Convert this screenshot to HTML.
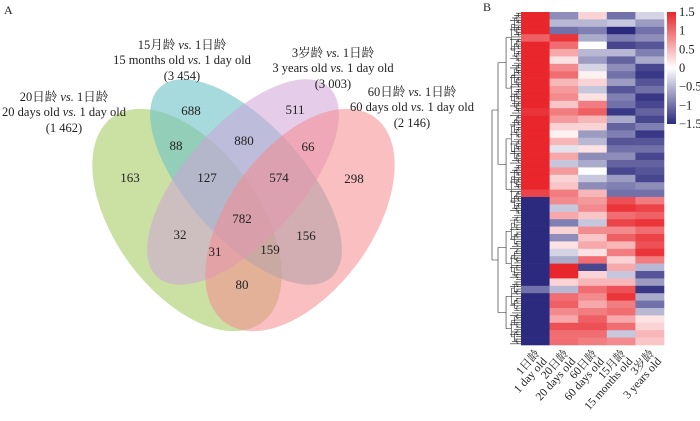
<!DOCTYPE html>
<html><head><meta charset="utf-8"><style>
body{margin:0;background:#fff;width:700px;height:416px;overflow:hidden;font-family:"Liberation Serif","Noto Serif CJK SC",serif;}
svg text{font-family:"Liberation Serif","Noto Serif CJK SC",serif;fill:#222;}
</style></head><body>
<svg id="root" width="700" height="416" viewBox="0 0 700 416">
<text x="4" y="14" font-size="12">A</text>
<text x="483" y="11" font-size="12">B</text>
<g>
<ellipse cx="187" cy="220" rx="72" ry="127" transform="rotate(-36 187 220)" fill="#a9cf6b" fill-opacity="0.62"/>
<ellipse cx="246" cy="182" rx="58" ry="128" transform="rotate(-42 246 182)" fill="#6cc1c6" fill-opacity="0.6"/>
<ellipse cx="243" cy="182" rx="58" ry="128" transform="rotate(42 243 182)" fill="#cfa4d9" fill-opacity="0.55"/>
<ellipse cx="300" cy="220" rx="72" ry="127" transform="rotate(36 300 220)" fill="#f58a8e" fill-opacity="0.55"/>
</g>
<g font-size="13" text-anchor="middle" id="counts"></g>
<g font-size="12.5" text-anchor="middle">
<text x="64" y="101">20日龄 <tspan font-style="italic">vs.</tspan> 1日龄</text>
<text x="64" y="116">20 days old <tspan font-style="italic">vs.</tspan> 1 day old</text>
<text x="64" y="132">(1 462)</text>
<text x="182" y="49">15月龄 <tspan font-style="italic">vs.</tspan> 1日龄</text>
<text x="182" y="64">15 months old <tspan font-style="italic">vs.</tspan> 1 day old</text>
<text x="182" y="80">(3 454)</text>
<text x="333" y="57">3岁龄 <tspan font-style="italic">vs.</tspan> 1日龄</text>
<text x="333" y="72">3 years old <tspan font-style="italic">vs.</tspan> 1 day old</text>
<text x="333" y="88">(3 003)</text>
<text x="412" y="96">60日龄 <tspan font-style="italic">vs.</tspan> 1日龄</text>
<text x="412" y="111">60 days old <tspan font-style="italic">vs.</tspan> 1 day old</text>
<text x="412" y="127">(2 146)</text>
</g>
<g id="dendro" stroke="#222" stroke-width="0.6" fill="none"></g>
<g id="heat"></g>
<defs><linearGradient id="cb" x1="0" y1="0" x2="0" y2="1">
<stop offset="0" stop-color="#e8262b"/><stop offset="0.5" stop-color="#ffffff"/><stop offset="1" stop-color="#2b2a7e"/></linearGradient></defs>
<rect x="667" y="12" width="9" height="112" fill="url(#cb)"/>
<g font-size="12.5" id="cbt"></g>
<g font-size="11.5" id="collab"></g>
</svg>
<script>
const ns="http://www.w3.org/2000/svg";
const vennCounts=[688,511,88,880,66,163,127,574,298,782,32,156,31,159,80];
const vennRegions=["T","P","GT","TP","PR","G","GTP","TPR","R","ALL","GP","TR","GPR","GTR","GR"];
const regionPos={T:[191,115],P:[295,114],GT:[176,150],TP:[244,145],PR:[308,151],G:[130,182],GTP:[207,182],TPR:[279,182],R:[354,183],ALL:[242,223],GP:[180,239],TR:[306,240],GPR:[215,256],GTR:[270,254],GR:[242,289]};
const cg=document.getElementById('counts');
vennCounts.forEach((v,i)=>{const t=document.createElementNS(ns,'text');const p=regionPos[vennRegions[i]];
t.setAttribute('x',p[0]);t.setAttribute('y',p[1]);t.textContent=v;

cg.appendChild(t);});

const columns=["1日龄|1 day old","20日龄|20 days old","60日龄|60 days old","15月龄|15 months old","3岁龄|3 years old"];
const col1=[1.5,1.5,1.5,1.1,1.5,1.5,1.5,1.5,1.5,1.5,1.5,1.5,1.5,1.4,1.5,1.5,1.5,1.5,1.5,1.5,1.5,1.5,1.5,1.5,1.3,-1.5,-1.5,-1.5,-1.5,-1.5,-1.5,-1.5,-1.5,-1.5,-1.5,-1.5,-1.5,-1.0,-1.5,-1.5,-1.5,-1.5,-1.5,-1.5,-1.5];
const col2=[-0.8,-0.5,-1.0,1.4,1.0,0.6,0.2,0.8,1.0,0.5,0.7,0.8,0.4,0.9,0.7,0.3,0.1,0.5,-0.2,0.6,-0.4,0.7,0.3,0.4,0.9,0.8,-0.4,0.6,-0.9,0.3,-0.8,0.2,-0.3,-0.6,1.5,1.5,0.3,-0.5,1.0,1.1,0.8,0.6,1.2,1.0,1.0];
const col3=[0.3,-0.5,-0.9,-0.6,0.0,-0.5,-0.7,-0.3,0.1,0.3,-0.4,0.2,0.9,1.1,0.5,0.3,-0.7,-0.5,0.2,-0.8,-0.6,0.0,-0.4,-0.8,0.5,0.7,0.8,0.4,-0.4,0.8,0.4,0.6,0.2,1.0,-1.3,0.3,0.5,1.0,0.8,0.6,0.9,1.1,1.2,1.0,0.9];
const col4=[-1.0,-0.4,-1.5,-0.9,-1.3,-0.5,-1.1,-0.8,-1.0,-0.7,-1.2,-0.9,-1.0,-1.4,-0.6,-1.1,-0.9,-1.2,-1.0,-0.8,-1.1,-1.3,-0.7,-0.9,-1.0,1.2,1.4,1.0,1.3,0.8,1.1,0.5,0.9,0.3,0.6,-0.4,0.5,1.2,1.4,0.9,1.0,0.6,1.0,-0.4,0.8];
const col5=[-0.3,-0.7,-1.0,-0.8,-1.2,-0.9,-0.6,-1.3,-1.4,-1.2,-1.0,-1.4,-1.3,-1.1,-1.3,-0.9,-1.4,-1.2,-1.0,-1.3,-1.1,-1.2,-1.3,-0.8,-1.0,0.9,1.3,1.1,1.4,1.0,1.3,1.2,1.4,0.9,-0.5,-1.2,-0.7,-1.4,-0.6,-1.0,-0.5,0.2,0.3,0.5,0.4];
const colData=[col1,col2,col3,col4,col5];
const cbTicks=[1.5,1,0.5,0,-0.5,-1,-1.5];
const hx0=521,hw=28.6,hy0=12,hy1=345;
const yOf=i=>hy0+(hy1-hy0)*i/col1.length;
const vY=v=>12+(1.5-v)/3*112;
function color(v){const t=Math.max(-1,Math.min(1,v/1.5));
 const a=[255,255,255],b=t>=0?[232,38,43]:[43,42,126],s=Math.abs(t);
 return `rgb(${a.map((c,k)=>Math.round(c+(b[k]-c)*s)).join(',')})`;}
const hg=document.getElementById('heat');
colData.forEach((arr,c)=>arr.forEach((v,i)=>{const r=document.createElementNS(ns,'rect');
r.setAttribute('x',hx0+c*hw);r.setAttribute('y',yOf(i));r.setAttribute('width',hw+0.3);r.setAttribute('height',yOf(i+1)-yOf(i)+0.3);
r.setAttribute('fill',color(v));

hg.appendChild(r);}));
const cbt=document.getElementById('cbt');
cbTicks.forEach(v=>{const t=document.createElementNS(ns,'text');t.setAttribute('x',679);t.setAttribute('y',vY(v)+4);
t.textContent=v<0?'\u2212'+Math.abs(v):String(v);

cbt.appendChild(t);});
const cl=document.getElementById('collab');
columns.forEach((s,c)=>{const [a,b]=s.split('|');const x=hx0+c*hw+hw/2+5;
const t=document.createElementNS(ns,'text');t.setAttribute('transform',`translate(${x},354) rotate(-48)`);t.setAttribute('text-anchor','end');
t.innerHTML=`<tspan x="0" dy="0">${a}</tspan><tspan x="-1" dy="10.5">${b}</tspan>`;

cl.appendChild(t);});
const dg=document.getElementById('dendro');
let d='';const N=140;
for(let i=0;i<N;i++){const y=hy0+(hy1-hy0)*(i+0.5)/N;d+=`M${521-5-(i%4)*2} ${y}H521`;}
function tree(y0,y1,x,depth){if(depth>6||y1-y0<6)return;const m=(y0+y1)/2;const nx=x+(521-x)*0.35;
d+=`M${x} ${(y0+m)/2}V${(m+y1)/2}M${x} ${(y0+m)/2}H${nx}M${x} ${(m+y1)/2}H${nx}`;tree(y0,m,nx,depth+1);tree(m,y1,nx,depth+1);}
d+=`M492 110V260M492 110H498M492 260H498`;
tree(hy0,215,498,0);tree(215,hy1,498,0);
const p=document.createElementNS(ns,'path');p.setAttribute('d',d);dg.appendChild(p);
</script>
</body></html>
